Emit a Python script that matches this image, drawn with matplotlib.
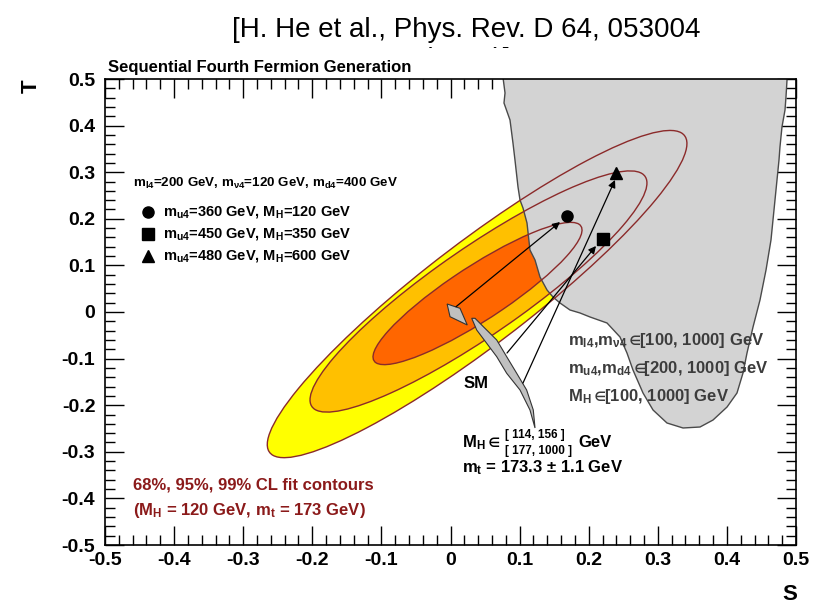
import matplotlib
matplotlib.use('Agg')
import matplotlib.pyplot as plt
from matplotlib.patches import Ellipse, Polygon, Rectangle
from matplotlib.ticker import MultipleLocator
import numpy as np

plt.rcParams['font.family'] = ['Liberation Sans', 'DejaVu Sans']
plt.rcParams['mathtext.fontset'] = 'custom'
plt.rcParams['mathtext.rm'] = 'Liberation Sans'
plt.rcParams['mathtext.bf'] = 'Liberation Sans:bold'
plt.rcParams['mathtext.it'] = 'Liberation Sans:italic'
plt.rcParams['mathtext.default'] = 'bf'
plt.rcParams['mathtext.fallback'] = 'stixsans'

# fit ellipses (99, 95, 68 % CL): centre S, centre T, semi-major, semi-minor, angle
cl_levels = ['99', '95', '68']
ell_S = [0.0385, 0.0405, 0.0391]
ell_T = [0.0385, 0.0440, 0.0397]
ell_a = [0.455, 0.3465, 0.209]
ell_b = [0.092, 0.0797, 0.050]
ell_ang = [49.5, 46.9, 45.3]
ell_col = ['#ffff00', '#ffc000', '#ff6600']

# 4th generation scan region boundary (S, T)
scan_S = [0.0745, 0.0789, 0.0774, 0.0861, 0.0904, 0.0933, 0.0977, 0.1006, 0.1049,
          0.1107, 0.1150, 0.1223, 0.1295, 0.1397, 0.1483, 0.1585, 0.1729, 0.1874,
          0.2019, 0.2265, 0.2453, 0.2554, 0.2641, 0.2786, 0.2931, 0.3133, 0.3365,
          0.3611, 0.3799, 0.4002, 0.4146, 0.4233, 0.4291, 0.4378, 0.4479, 0.4566,
          0.4638, 0.4696, 0.4725, 0.4754, 0.4768, 0.4797, 0.4841, 0.4855, 0.4870, 0.4870]
scan_T = [0.52, 0.470, 0.4485, 0.412, 0.3627, 0.3262, 0.2682, 0.2403, 0.2232,
          0.1910, 0.1330, 0.1116, 0.0751, 0.0472, 0.0322, 0.0193, 0.0043, -0.0021,
          -0.0107, -0.0236, -0.0536, -0.0880, -0.1245, -0.1738, -0.2103, -0.2382, -0.2489,
          -0.2468, -0.2318, -0.2039, -0.1738, -0.1309, -0.0880, -0.0322, 0.0258, 0.0901,
          0.1545, 0.2403, 0.2833, 0.3262, 0.3541, 0.3970, 0.4335, 0.4614, 0.4979, 0.52]

# SM prediction: M_H in [114,156] (box) and [177,1000] (band)
sm_box_S = [-0.0049, 0.0138, 0.0243, -0.0007]
sm_box_T = [0.0172, 0.0079, -0.0279, -0.0101]
sm_band_S = [0.0307, 0.0379, 0.0524, 0.0669, 0.0813, 0.1006, 0.1150, 0.1223,
             0.1198, 0.1102, 0.0958, 0.0813, 0.0669, 0.0475, 0.0355]
sm_band_T = [-0.0135, -0.0386, -0.0672, -0.0959, -0.1315, -0.1674, -0.2103, -0.2489,
             -0.2103, -0.1674, -0.1315, -0.0959, -0.0601, -0.0315, -0.0135]

# example 4th generation points and the SM points they start from
pt_S = [0.169, 0.220, 0.240]
pt_T = [0.206, 0.156, 0.299]
pt_marker = ['o', 's', '^']
arr_S0 = [0.008, 0.0818, 0.1049]
arr_T0 = [0.0114, -0.088, -0.1524]
arr_S1 = [0.1585, 0.2106, 0.2381]
arr_T1 = [0.1931, 0.1416, 0.2833]
pt_labels = [r'm$_{u4}$=360 GeV, M$_{H}$=120 GeV',
             r'm$_{u4}$=450 GeV, M$_{H}$=350 GeV',
             r'm$_{u4}$=480 GeV, M$_{H}$=600 GeV']

fig = plt.figure(figsize=(8.17, 6.05), dpi=100)
ax = fig.add_axes([105 / 817, 1 - 545 / 605, 691 / 817, 466 / 605])
ax.set_zorder(2)

# reference line above the plot, second line partly hidden under the figure
fig.text(466 / 817, 1 - 30 / 605, '[H. He et al., Phys. Rev. D 64, 053004',
         ha='center', va='center', fontsize=20, family='Liberation Sans')
fig.text(466 / 817, 1 - 60 / 605, '(2001)]', ha='center', va='center',
         fontsize=20, family='Liberation Sans', zorder=1)
fig.patches.append(Rectangle((0, 0), 1, 1 - 48 / 605, transform=fig.transFigure,
                             facecolor='white', edgecolor='none', zorder=1.5))

for i in range(3):
    ax.add_patch(Ellipse((ell_S[i], ell_T[i]), 2 * ell_a[i], 2 * ell_b[i],
                         angle=ell_ang[i], facecolor=ell_col[i], edgecolor='none', zorder=1))

ax.add_patch(Polygon(np.column_stack([scan_S, scan_T]), closed=True,
                     facecolor='#d3d3d3', edgecolor='#4a4a4a', lw=1.0, zorder=2))

for i in range(3):
    ax.add_patch(Ellipse((ell_S[i], ell_T[i]), 2 * ell_a[i], 2 * ell_b[i],
                         angle=ell_ang[i], facecolor='none', edgecolor='#8b2a2a',
                         lw=1.0, zorder=3))

ax.add_patch(Polygon(np.column_stack([sm_box_S, sm_box_T]), closed=True,
                     facecolor='#c0c0c0', edgecolor='#333333', lw=0.8, zorder=4))
ax.add_patch(Polygon(np.column_stack([sm_band_S, sm_band_T]), closed=True,
                     facecolor='#c0c0c0', edgecolor='#333333', lw=0.8, zorder=4))

for i in range(3):
    ax.annotate('', xy=(arr_S1[i], arr_T1[i]), xytext=(arr_S0[i], arr_T0[i]),
                arrowprops=dict(arrowstyle='-|>', color='black', lw=0.9,
                                mutation_scale=11, shrinkA=0, shrinkB=0), zorder=5)
    ax.plot(pt_S[i], pt_T[i], marker=pt_marker[i], color='black', ms=8, zorder=6)

ax.set_xlim(-0.5, 0.5)
ax.set_ylim(-0.5, 0.5)
ax.xaxis.set_minor_locator(MultipleLocator(0.02))
ax.yaxis.set_minor_locator(MultipleLocator(0.02))
ax.tick_params(which='both', direction='in', top=True, right=True, width=1.0)
ax.tick_params(which='major', length=14, labelsize=14, pad=5)
ax.tick_params(which='minor', length=7)
ax.tick_params(axis='y', pad=7)
tick_vals = np.round(np.arange(-0.5, 0.51, 0.1), 1)
tick_text = ['-0.5', '-0.4', '-0.3', '-0.2', '-0.1', '0', '0.1', '0.2', '0.3', '0.4', '0.5']
ax.set_xticks(tick_vals)
ax.set_xticklabels(tick_text)
ax.set_yticks(tick_vals)
ax.set_yticklabels(tick_text)
for lab in ax.get_xticklabels() + ax.get_yticklabels():
    lab.set_fontweight('bold')
for sp in ax.spines.values():
    sp.set_linewidth(1.2)
    sp.set_zorder(7)

fig.text(31 / 817, 1 - 86 / 605, 'T', rotation=90, ha='center', va='center',
         fontsize=16, fontweight='bold', zorder=3)
fig.text(790 / 817, 1 - 595 / 605, 'S', ha='center', va='center',
         fontsize=16, fontweight='bold', zorder=3)

ax.text(0.004, 1.008, 'Sequential Fourth Fermion Generation', transform=ax.transAxes,
        ha='left', va='bottom', fontsize=12, fontweight='bold')

ax.text(-0.4595, 0.2768, r'm$_{l4}$=200 GeV, m$_{\nu 4}$=120 GeV, m$_{d4}$=400 GeV',
        ha='left', va='center', fontsize=9.6, fontweight='bold', zorder=8)
for i in range(3):
    yy = [0.2146, 0.1674, 0.1202][i]
    ax.plot(-0.4378, yy, marker=pt_marker[i], color='black', ms=8, zorder=8)
    ax.text(-0.4161, yy, pt_labels[i], ha='left', va='center', fontsize=10.5,
            fontweight='bold', zorder=8)

grey_txt = '#3c3c3c'
ax.text(0.170, -0.0622, r'm$_{l4}$,m$_{\nu 4}$ $\!\!\in\!\!$[100, 1000] GeV', ha='left',
        va='center', fontsize=12, fontweight='bold', color=grey_txt, zorder=8)
ax.text(0.170, -0.1202, r'm$_{u4}$,m$_{d4}$ $\!\!\in\!\!$[200, 1000] GeV', ha='left',
        va='center', fontsize=12, fontweight='bold', color=grey_txt, zorder=8)
ax.text(0.170, -0.1803, r'M$_{H}$ $\!\!\in\!\!$[100, 1000] GeV', ha='left', va='center',
        fontsize=12, fontweight='bold', color=grey_txt, zorder=8)

ax.text(0.0166, -0.281, r'M$_{H}$ $\!\!\in$', ha='left', va='center', fontsize=12,
        fontweight='bold', zorder=8)
ax.text(0.0789, -0.264, '[ 114, 156 ]', ha='left', va='center', fontsize=8.5,
        fontweight='bold', zorder=8)
ax.text(0.0789, -0.298, '[ 177, 1000 ]', ha='left', va='center', fontsize=8.5,
        fontweight='bold', zorder=8)
ax.text(0.1845, -0.281, 'GeV', ha='left', va='center', fontsize=12,
        fontweight='bold', zorder=8)
ax.text(0.0166, -0.3348, r'm$_{t}$ = 173.3 $\pm$ 1.1 GeV', ha='left', va='center',
        fontsize=12, fontweight='bold', zorder=8)

ax.text(0.0369, -0.1524, 'SM', ha='center', va='center', fontsize=12,
        fontweight='bold', zorder=8)

red_txt = '#8b1a1a'
ax.text(-0.4595, -0.3712, '68%, 95%, 99% CL fit contours', ha='left', va='center',
        fontsize=12, fontweight='bold', color=red_txt, zorder=8)
ax.text(-0.4595, -0.4249, r'(M$_{H}$ = 120 GeV, m$_{t}$ = 173 GeV)', ha='left', va='center',
        fontsize=12, fontweight='bold', color=red_txt, zorder=8)

fig.savefig('out.png', dpi=100)
